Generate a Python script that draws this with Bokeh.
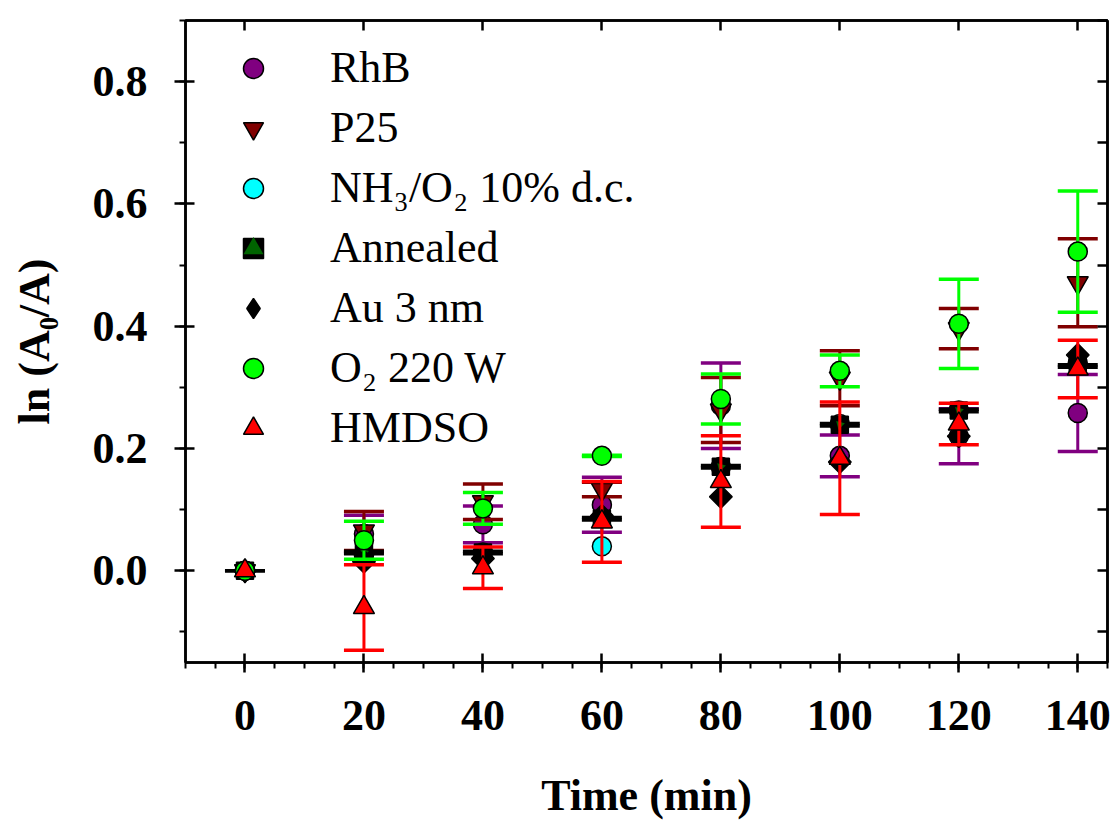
import math
from bokeh.plotting import figure
from bokeh.models import (Range1d, LinearAxis, SingleIntervalTicker, PrintfTickFormatter,
                          CustomJSTickFormatter, Legend, LegendItem)
from bokeh.embed import file_html
from bokeh.resources import INLINE

# ---------------- data ----------------
time = [0, 20, 40, 60, 80, 100, 120, 140]

rhb = [0.0, 0.060, 0.076, 0.108, 0.270, 0.188, 0.220, 0.258]
rhb_err = [0.0, 0.031, 0.030, 0.045, 0.070, 0.034, 0.045, 0.063]

p25 = [0.0, 0.065, 0.113, 0.133, 0.263, 0.315, 0.396, 0.471]
p25_err = [0.0, 0.032, 0.029, 0.012, 0.053, 0.045, 0.033, 0.072]

nh3 = [0.0, 0.025, 0.030, 0.040, 0.170, 0.240, 0.262, 0.340]
nh3_err = [0.0, 0.0, 0.0, 0.0, 0.0, 0.0, 0.0, 0.0]

annealed = [0.0, 0.030, 0.030, 0.085, 0.170, 0.239, 0.262, 0.335]
annealed_err = [0.0, 0.002, 0.002, 0.002, 0.002, 0.002, 0.002, 0.002]

au = [0.0, 0.015, 0.020, 0.090, 0.121, 0.178, 0.220, 0.353]
au_err = [0.0, 0.0, 0.0, 0.0, 0.0, 0.0, 0.0, 0.0]

o2 = [0.0, 0.050, 0.102, 0.188, 0.281, 0.327, 0.404, 0.522]
o2_err = [0.0, 0.031, 0.026, 0.001, 0.041, 0.026, 0.073, 0.099]

hmdso = [0.0, -0.060, 0.005, 0.080, 0.146, 0.184, 0.240, 0.330]
hmdso_err = [0.0, 0.070, 0.034, 0.066, 0.075, 0.092, 0.034, 0.047]

labels = ["RhB", "P25", "NH\u2083/O\u2082 10% d.c.", "Annealed", "Au 3 nm",
          "O\u2082 220 W", "HMDSO"]

FONT = "Liberation Serif"

p = figure(frame_width=922, frame_height=642,
           x_range=Range1d(-10, 145), y_range=Range1d(-0.15, 0.9),
           output_backend="svg", toolbar_location=None,
           min_border_left=185, min_border_top=20, min_border_right=7,
           min_border_bottom=155)
p.xgrid.visible = False
p.ygrid.visible = False
p.outline_line_color = "black"
p.outline_line_width = 2.5
p.background_fill_color = "white"
p.border_fill_color = "white"

def style_axis(ax):
    ax.axis_line_width = 2.5
    ax.axis_line_color = "black"
    ax.major_tick_line_width = 2.5
    ax.minor_tick_line_width = 2
    ax.major_label_text_font = FONT
    ax.major_label_text_font_size = "44px"
    ax.major_label_text_font_style = "bold"
    ax.major_label_text_color = "black"
    ax.axis_label_text_font = FONT
    ax.axis_label_text_font_size = "44px"
    ax.axis_label_text_font_style = "bold"
    ax.axis_label_text_color = "black"

xa = p.xaxis[0]
xa.ticker = SingleIntervalTicker(interval=20, num_minor_ticks=4)
xa.formatter = PrintfTickFormatter(format="%d")
style_axis(xa)
xa.major_tick_in = 9
xa.major_tick_out = 10
xa.minor_tick_in = 0
xa.minor_tick_out = 6
xa.major_label_standoff = 28
xa.axis_label = "Time (min)"
xa.axis_label_standoff = 38

ya = p.yaxis[0]
ya.ticker = SingleIntervalTicker(interval=0.2, num_minor_ticks=2)
ya.formatter = PrintfTickFormatter(format="%.1f")
style_axis(ya)
ya.major_tick_in = 9
ya.major_tick_out = 11
ya.minor_tick_in = 0
ya.minor_tick_out = 6
ya.major_label_standoff = 27
ya.axis_label = "ln (A\u2080/A)"
ya.axis_label_standoff = 31

blank = CustomJSTickFormatter(code="return ''")
top = LinearAxis(ticker=SingleIntervalTicker(interval=20, num_minor_ticks=0),
                 formatter=blank, major_tick_in=10, major_tick_out=0,
                 minor_tick_in=0, minor_tick_out=0, major_label_standoff=0,
                 major_label_text_font_size="0px", axis_line_width=2.5,
                 major_tick_line_width=2.5)
p.add_layout(top, "above")
right = LinearAxis(ticker=SingleIntervalTicker(interval=0.1, num_minor_ticks=0),
                   formatter=blank, major_tick_in=10, major_tick_out=0,
                   minor_tick_in=0, minor_tick_out=0, major_label_standoff=0,
                   major_label_text_font_size="0px", axis_line_width=2.5,
                   major_tick_line_width=2.5)
p.add_layout(right, "right")

series = [
    (rhb, rhb_err, "#800080", dict(marker="circle", size=19, fill_color="#800080")),
    (p25, p25_err, "#800000", dict(marker="inverted_triangle", size=21, fill_color="#800000")),
    (nh3, nh3_err, "#00FFFF", dict(marker="circle", size=19, fill_color="#00FFFF")),
    (annealed, annealed_err, "#000000", dict(marker="square", size=17, fill_color="#000000")),
    (au, au_err, "#000000", dict(marker="square", size=16, angle=math.pi / 4, fill_color="#000000")),
    (o2, o2_err, "#00FF00", dict(marker="circle", size=19, fill_color="#00FF00")),
    (hmdso, hmdso_err, "#FF0000", dict(marker="triangle", size=21, fill_color="#FF0000")),
]

items = []
for i, (vals, errs, col, mk) in enumerate(series):
    keep = [k for k in range(len(time)) if errs[k] > 0 or vals is annealed]
    xs = [time[k] for k in keep]
    up = [vals[k] + errs[k] for k in keep]
    lo = [vals[k] - errs[k] for k in keep]
    if xs:
        p.segment(x0=xs, y0=lo, x1=xs, y1=up, line_color=col, line_width=3)
        p.scatter(x=xs, y=up, marker="dash", size=40, line_color=col, line_width=3.5)
        p.scatter(x=xs, y=lo, marker="dash", size=40, line_color=col, line_width=3.5)
    r = p.scatter(x=time, y=vals, line_color="black", line_width=1.5, **mk)
    rs = [r]
    if vals is annealed:
        r2 = p.scatter(x=time, y=vals, marker="triangle", size=9, angle=math.pi / 4,
                       fill_color="#006400", line_color=None)
        rs.append(r2)
    if vals is au:
        # legend-only diamond (legend glyphs ignore the marker angle)
        r3 = p.scatter(x=time, y=vals, marker="diamond", size=24, fill_color="black",
                       line_color="black", line_width=1.5, visible=False)
        rs = [r3]
    items.append(LegendItem(label=labels[i], renderers=rs))

legend = Legend(items=items, location=(43, 209), glyph_width=50, glyph_height=50,
                label_height=50, label_standoff=52, spacing=9, padding=0, margin=0,
                border_line_color=None, background_fill_alpha=0,
                inactive_fill_alpha=0,
                label_text_font=FONT, label_text_font_size="44px",
                label_text_color="black")
p.add_layout(legend)

open("out.html", "w").write(file_html(p, INLINE))
